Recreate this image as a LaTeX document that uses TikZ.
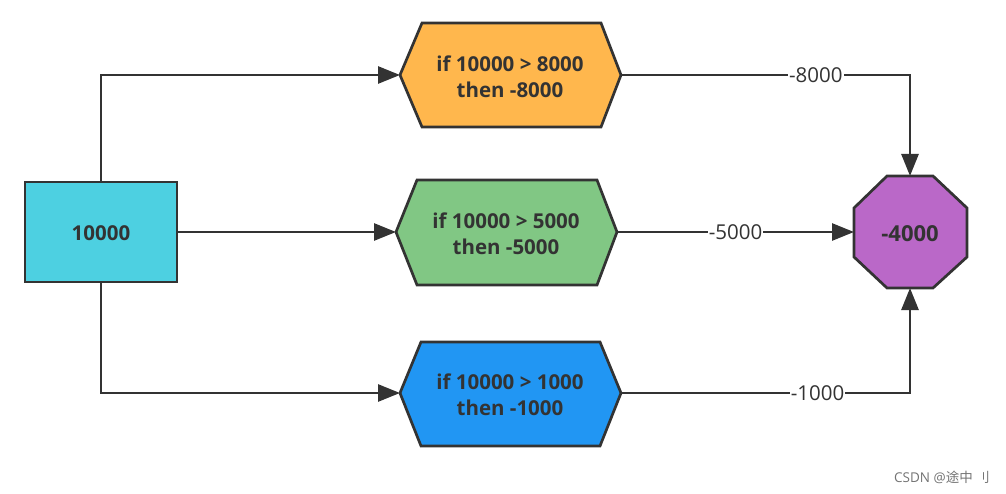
\documentclass[tikz,border=0pt]{standalone}
\usepackage{fontspec}
\setmainfont{Open Sans}
\newfontfamily\cjk{Noto Sans CJK SC}
\usetikzlibrary{arrows.meta}
\definecolor{strk}{HTML}{333333}
\definecolor{cyanf}{HTML}{4DD0E1}
\definecolor{orangef}{HTML}{FFB74D}
\definecolor{greenf}{HTML}{81C784}
\definecolor{bluef}{HTML}{2196F3}
\definecolor{purplef}{HTML}{BA68C8}
\begin{document}
\begin{tikzpicture}[x=1pt,y=-1pt,
  shp/.style={draw=strk,line width=2.7pt,line join=miter},
  txt/.style={text=strk,font=\fontsize{20.5}{26}\selectfont\bfseries,align=center},
  conn/.style={draw=strk,line width=2.7pt,-{Triangle[length=22pt,width=17pt]}},
  lbl/.style={fill=white,text=strk,font=\fontsize{20.5}{24}\selectfont,inner sep=1pt},
  wmk/.style={text=black!55,font=\fontsize{13.5}{16}\selectfont,anchor=east,inner sep=0pt}]
\useasboundingbox (0,0) rectangle (1006,494);
% start rectangle
\filldraw[shp,fill=cyanf] (25,182) rectangle (177,282);
\node[txt] (start) at (101,233) {10000};
\coordinate (startT) at (101,182);
\coordinate (startR) at (177,232);
\coordinate (startB) at (101,282);
% hexagons
\filldraw[shp,fill=orangef] (400,75) -- (422,23) -- (601,23) -- (621,75) -- (601,127) -- (422,127) -- cycle;
\node[txt] (h1) at (510,77) {if 10000 > 8000\\then -8000};
\coordinate (h1L) at (400,75); \coordinate (h1R) at (621,75);
\filldraw[shp,fill=greenf] (396,232) -- (417,180) -- (597,180) -- (617,232) -- (597,285) -- (417,285) -- cycle;
\node[txt] (h2) at (506,234) {if 10000 > 5000\\then -5000};
\coordinate (h2L) at (396,232); \coordinate (h2R) at (617,232);
\filldraw[shp,fill=bluef] (400,393) -- (421,342) -- (600,342) -- (621,393) -- (600,446) -- (421,446) -- cycle;
\node[txt] (h3) at (510,395) {if 10000 > 1000\\then -1000};
\coordinate (h3L) at (400,393); \coordinate (h3R) at (621,393);
% octagon
\filldraw[shp,fill=purplef] (887,176) -- (933,176) -- (967,208) -- (967,257) -- (933,288) -- (887,288) -- (854,257) -- (854,208) -- cycle;
\node[txt,font=\fontsize{22}{26}\selectfont\bfseries] (res) at (910,234) {-4000};
\coordinate (resT) at (910,176); \coordinate (resL) at (854,232); \coordinate (resB) at (910,288);
% connectors
\draw[conn] (startT) |- (h1L);
\draw[conn] (startR) -- (h2L);
\draw[conn] (startB) |- (h3L);
\draw[conn] (h1R) -| node[lbl,pos=0.337] {-8000} (resT);
\draw[conn] (h2R) -- node[lbl,pos=0.5] {-5000} (resL);
\draw[conn] (h3R) -| node[lbl,pos=0.34] {-1000} (resB);
% watermark
\node[wmk] (wm) at (990,477) {CSDN @{\cjk 途中} {\cjk 刂}};
\end{tikzpicture}
\end{document}
